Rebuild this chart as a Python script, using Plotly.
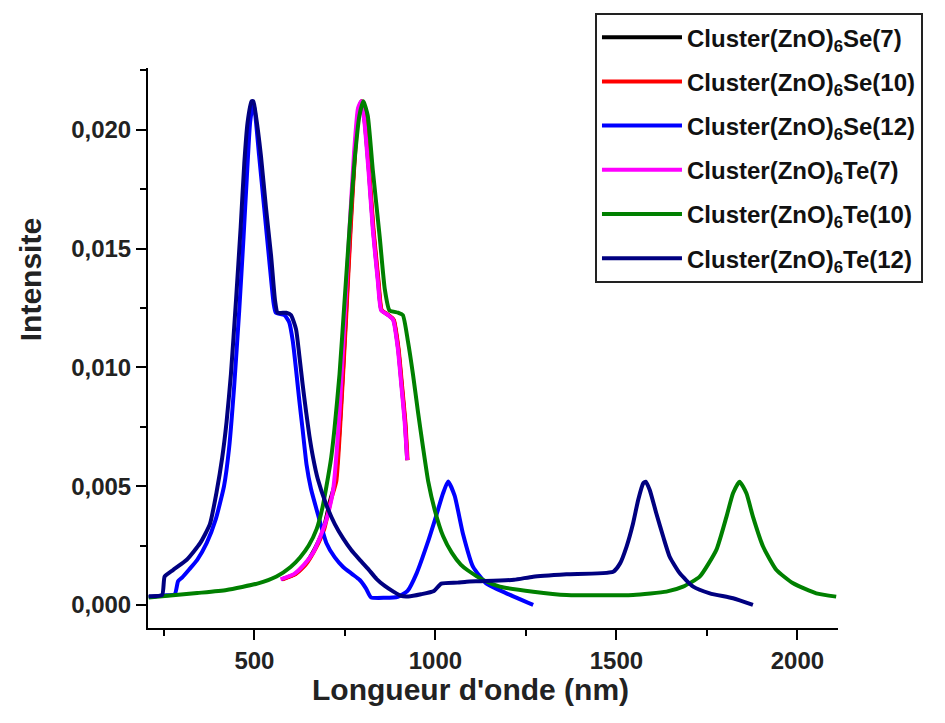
import plotly.graph_objects as go

# Wavelength (nm) / intensity pairs for each cluster spectrum
se7_x = [575, 612, 640, 668, 691, 709, 724, 738, 752, 765, 777, 788, 796, 805, 816, 828, 842, 851, 870, 884, 897, 907, 916, 922]
se7_y = [0.00108, 0.0013, 0.0017, 0.0024, 0.0032, 0.0044, 0.0052, 0.0081, 0.0120, 0.0159, 0.0190, 0.0209, 0.0212, 0.0203, 0.0183, 0.0158, 0.0136, 0.0124, 0.0122, 0.0120, 0.0108, 0.0092, 0.0077, 0.0061]

se10_x = [578, 614, 642, 670, 693, 711, 726, 739, 753, 766, 778, 789, 797, 806, 817, 829, 843, 852, 871, 885, 898, 908, 917, 923]
se10_y = [0.00108, 0.0013, 0.0017, 0.0024, 0.0032, 0.0044, 0.0052, 0.0081, 0.0120, 0.0159, 0.0190, 0.0209, 0.0212, 0.0203, 0.0183, 0.0158, 0.0136, 0.0124, 0.0122, 0.0120, 0.0108, 0.0092, 0.0077, 0.0061]

se12_x = [208, 250, 280, 289, 300, 320, 342, 368, 393, 416, 430, 444, 458, 470, 479, 488, 496, 501, 513, 527, 541, 553, 559, 583, 596, 606, 615, 624, 633, 644, 656, 672, 699, 722, 745, 770, 791, 808, 822, 860, 896, 923, 948, 978, 1001, 1021, 1035, 1053, 1076, 1104, 1140, 1196, 1270]
se12_y = [0.00034, 0.0004, 0.00045, 0.001, 0.00115, 0.0015, 0.0019, 0.0026, 0.0036, 0.0050, 0.0066, 0.0092, 0.0124, 0.0155, 0.0180, 0.0203, 0.0211, 0.0208, 0.0189, 0.0167, 0.0145, 0.0127, 0.0123, 0.0122, 0.0119, 0.0111, 0.0099, 0.0086, 0.0074, 0.0059, 0.0049, 0.0040, 0.0026, 0.0020, 0.0016, 0.0013, 0.00105, 0.0007, 0.00032, 0.0003, 0.00034, 0.00059, 0.00133, 0.0026, 0.0037, 0.0047, 0.0052, 0.0046, 0.0030, 0.0016, 0.00091, 0.00049, 0.0]

te7_x = [572, 609, 637, 662, 685, 699, 717, 735, 749, 763, 775, 786, 795, 804, 815, 827, 841, 850, 869, 883, 896, 906, 915, 922]
te7_y = [0.00108, 0.0013, 0.0017, 0.0022, 0.0030, 0.0036, 0.0048, 0.0081, 0.0120, 0.0159, 0.0190, 0.0209, 0.0212, 0.0203, 0.0183, 0.0158, 0.0136, 0.0124, 0.0122, 0.0120, 0.0108, 0.0092, 0.0077, 0.0061]

te10_x = [208, 342, 423, 508, 561, 600, 626, 650, 672, 688, 699, 712, 721, 735, 749, 763, 776, 790, 801, 813, 827, 846, 860, 873, 897, 910, 924, 938, 952, 966, 980, 998, 1021, 1045, 1070, 1090, 1132, 1178, 1270, 1362, 1546, 1638, 1684, 1730, 1776, 1804, 1822, 1840, 1859, 1877, 1905, 1942, 1988, 2052, 2107]
te10_y = [0.00031, 0.00050, 0.00063, 0.0009, 0.0012, 0.0016, 0.0020, 0.0025, 0.0032, 0.0041, 0.0050, 0.0062, 0.0074, 0.0097, 0.0128, 0.0159, 0.0186, 0.0206, 0.0212, 0.0206, 0.0183, 0.0155, 0.0133, 0.0124, 0.0123, 0.0122, 0.0111, 0.0097, 0.0081, 0.0066, 0.0052, 0.0040, 0.0029, 0.0022, 0.0017, 0.00145, 0.00105, 0.00077, 0.00056, 0.00042, 0.00042, 0.00056, 0.00077, 0.00119, 0.00232, 0.00372, 0.0047, 0.00519, 0.0047, 0.00372, 0.00246, 0.00147, 0.00091, 0.00049, 0.00035]

te12_x = [208, 245, 252, 275, 313, 350, 377, 396, 411, 423, 435, 449, 462, 472, 481, 492, 497, 504, 518, 532, 546, 557, 564, 588, 601, 615, 624, 633, 643, 652, 662, 675, 699, 722, 745, 768, 791, 815, 837, 860, 885, 905, 925, 960, 996, 1016, 1061, 1086, 1125, 1217, 1270, 1362, 1491, 1510, 1528, 1546, 1560, 1574, 1581, 1592, 1610, 1629, 1647, 1675, 1712, 1758, 1822, 1877]
te12_y = [0.00037, 0.00042, 0.0012, 0.00147, 0.0019, 0.0026, 0.0034, 0.0048, 0.0062, 0.0077, 0.0097, 0.0128, 0.0159, 0.0186, 0.0203, 0.0212, 0.0212, 0.0206, 0.0189, 0.0167, 0.0147, 0.0128, 0.0123, 0.0123, 0.0122, 0.0116, 0.0105, 0.0093, 0.0081, 0.0071, 0.0062, 0.0053, 0.0042, 0.0034, 0.0028, 0.0023, 0.0019, 0.0015, 0.0011, 0.0008, 0.00055, 0.00038, 0.00036, 0.00045, 0.00059, 0.0009, 0.00094, 0.00098, 0.0010, 0.00106, 0.00119, 0.00129, 0.0014, 0.00175, 0.00246, 0.00344, 0.00442, 0.00512, 0.00519, 0.00484, 0.00386, 0.00288, 0.00203, 0.00133, 0.00077, 0.00049, 0.00028, 0.0]

series = [
    ("Cluster(ZnO)<sub>6</sub>Se(7)", se7_x, se7_y, "#000000"),
    ("Cluster(ZnO)<sub>6</sub>Se(10)", se10_x, se10_y, "#FF0000"),
    ("Cluster(ZnO)<sub>6</sub>Se(12)", se12_x, se12_y, "#0000FF"),
    ("Cluster(ZnO)<sub>6</sub>Te(7)", te7_x, te7_y, "#FF00FF"),
    ("Cluster(ZnO)<sub>6</sub>Te(10)", te10_x, te10_y, "#008000"),
    ("Cluster(ZnO)<sub>6</sub>Te(12)", te12_x, te12_y, "#000080"),
]

FONT = "Liberation Sans, Arial, sans-serif"

fig = go.Figure()
for i, (name, xs, ys, color) in enumerate(series):
    fig.add_trace(go.Scatter(
        x=xs, y=ys, mode="lines", name=name,
        legendgroup=f"g{i}",
        line=dict(color=color, width=4, shape="spline", smoothing=0.5),
    ))

axis_common = dict(
    showline=True, linecolor="black", linewidth=2,
    ticks="outside", ticklen=10, tickwidth=2, tickcolor="black",
    showgrid=False, zeroline=False, mirror=False,
    tickfont=dict(family=FONT, size=24, color="#222222", weight="bold"),
)

fig.update_layout(
    width=945, height=723,
    margin=dict(l=148, r=107, t=68, b=95),
    paper_bgcolor="white", plot_bgcolor="white",
    separators=",.",
    xaxis=dict(range=[206, 2112], tick0=0, dtick=500,
               minor=dict(dtick=250, ticks="outside", ticklen=6, tickwidth=2, tickcolor="black"),
               **axis_common),
    yaxis=dict(range=[-0.00097, 0.0226], tick0=0, dtick=0.005, tickformat=".3f",
               minor=dict(dtick=0.0025, ticks="outside", ticklen=6, tickwidth=2, tickcolor="black"),
               **axis_common),
    legend=dict(
        x=0.6478, y=1.098, xanchor="left", yanchor="top",
        bgcolor="white", bordercolor="#222222", borderwidth=2,
        font=dict(family=FONT, size=24, color="#111111", weight="bold"),
        tracegroupgap=10, itemwidth=80,
    ),
    annotations=[
        dict(text="Longueur d'onde (nm)", xref="paper", yref="paper",
             x=0.468, y=-0.11, xanchor="center", yanchor="middle", showarrow=False,
             font=dict(family=FONT, size=30, color="#222222", weight="bold")),
        dict(text="Intensite", xref="paper", yref="paper",
             x=-0.171, y=0.621, xanchor="center", yanchor="middle", showarrow=False,
             textangle=-90,
             font=dict(family=FONT, size=30, color="#222222", weight="bold")),
    ],
)

fig.write_html("out.html")
